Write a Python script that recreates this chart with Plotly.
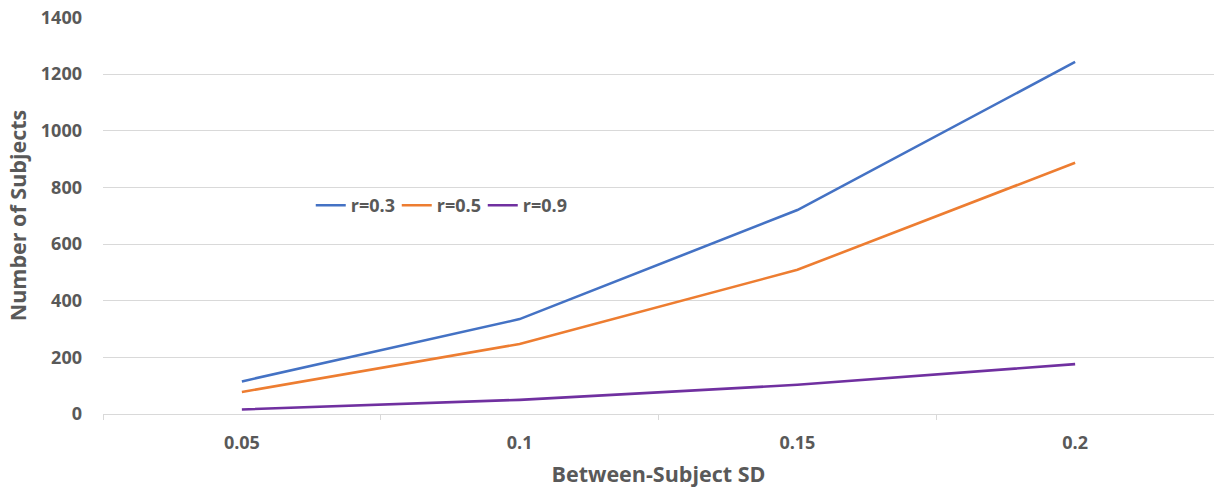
import plotly.graph_objects as go

categories = ["0.05", "0.1", "0.15", "0.2"]
r03 = [115, 335, 720, 1243]
r05 = [78, 247, 509, 887]
r09 = [16, 50, 103, 176]
series_names = ["r=0.3", "r=0.5", "r=0.9"]
colors = ["#4472C4", "#ED7D31", "#7030A0"]
y_ticks = [0, 200, 400, 600, 800, 1000, 1200, 1400]

fig = go.Figure()
for name, vals, col in zip(series_names, [r03, r05, r09], colors):
    fig.add_trace(go.Scatter(x=categories, y=vals, mode="lines", name=name,
                             line=dict(color=col, width=2.6)))

font_fam = "Open Sans, sans-serif"
grey = "#595959"
fig.update_layout(
    width=1214, height=488,
    margin=dict(l=103, r=0, t=17, b=74, autoexpand=False),
    plot_bgcolor="white", paper_bgcolor="white",
    font=dict(family=font_fam, color=grey, size=18),
    legend=dict(orientation="h", x=0.187, xanchor="left", y=0.525, yanchor="middle",
                bgcolor="rgba(0,0,0,0)", font=dict(size=18, color=grey, weight="bold"),
                itemwidth=30, entrywidth=41, entrywidthmode="pixels",
                borderwidth=0),
    showlegend=True,
)
fig.update_xaxes(
    type="category", range=[-0.5, 3.5], tickson="boundaries", automargin=False,
    ticks="outside", ticklen=5, tickcolor="#d9d9d9", tickwidth=1,
    showline=False, showgrid=False, zeroline=False, ticklabelstandoff=16,
    tickfont=dict(size=18, color=grey, weight="bold"),
    title=dict(text="Between-Subject SD", font=dict(size=21.5, color=grey, weight="bold"), standoff=15),
)
fig.update_yaxes(
    range=[0, 1401.5], tickvals=y_ticks, showgrid=True, gridcolor="#d9d9d9", gridwidth=1,
    zeroline=True, zerolinecolor="#d9d9d9", zerolinewidth=1, showline=False, automargin=False,
    ticks="", ticklabelstandoff=20, ticklabeloverflow="allow",
    tickfont=dict(size=18, color=grey, weight="bold"),
    title=dict(text="Number of Subjects", font=dict(size=21.5, color=grey, weight="bold"), standoff=8),
)
fig.write_html("out.html", config={"displayModeBar": False},
               post_script="document.body.style.margin='0';")
